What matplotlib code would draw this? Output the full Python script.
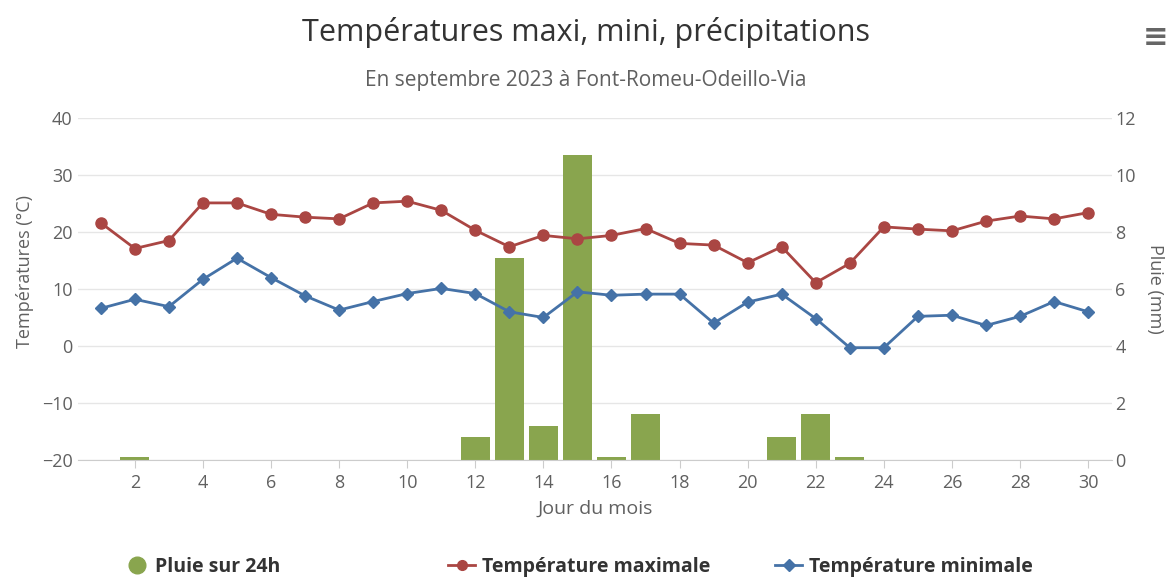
import numpy as np
import matplotlib
matplotlib.use("Agg")
import matplotlib.pyplot as plt
from matplotlib.lines import Line2D

plt.rcParams['font.family'] = ['Open Sans', 'DejaVu Sans']

# Données
jours = list(range(1, 31))
t_max = [21.6, 17.1, 18.5, 25.1, 25.1, 23.1, 22.6, 22.3, 25.1, 25.4,
         23.8, 20.3, 17.4, 19.4, 18.8, 19.4, 20.6, 18.0, 17.7, 14.6,
         17.4, 11.1, 14.5, 20.9, 20.5, 20.2, 21.9, 22.8, 22.3, 23.4]
t_min = [6.6, 8.2, 6.9, 11.7, 15.4, 12.0, 8.8, 6.3, 7.8, 9.2,
         10.1, 9.2, 6.0, 5.0, 9.5, 8.9, 9.1, 9.1, 4.0, 7.7,
         9.1, 4.8, -0.3, -0.3, 5.2, 5.4, 3.6, 5.2, 7.8, 6.0]
pluie = [0.0, 0.1, 0.0, 0.0, 0.0, 0.0, 0.0, 0.0, 0.0, 0.0,
         0.0, 0.8, 7.1, 1.2, 10.7, 0.1, 1.6, 0.0, 0.0, 0.0,
         0.8, 1.6, 0.1, 0.0, 0.0, 0.0, 0.0, 0.0, 0.0, 0.0]

rouge = '#AA4643'
bleu = '#4572A7'
vert = '#89A54E'
gris = '#606060'

fig = plt.figure(figsize=(11.71, 5.82), dpi=100)
ax2 = fig.add_axes([0.0666, 0.2096, 0.883, 0.5877])
ax = ax2.twinx()
# températures au-dessus des barres
ax.set_zorder(ax2.get_zorder() + 1)
ax.patch.set_visible(False)

# Barres de pluie (axe de droite)
ax2.bar(jours, pluie, width=0.86, color=vert, zorder=2)
ax2.set_ylim(0, 12)
ax2.set_yticks(range(0, 13, 2))
ax2.yaxis.tick_right()
ax2.yaxis.set_label_position('right')
ax2.grid(axis='y', color='#e6e6e6', linewidth=1, zorder=0)
ax2.set_axisbelow(True)
ax2.set_ylabel('Pluie (mm)', rotation=270, labelpad=20, fontsize=13, color=gris)

# Courbes de températures (axe de gauche)
ax.plot(jours, t_max, color=rouge, lw=2, marker='o', ms=8, zorder=3)
ax.plot(jours, t_min, color=bleu, lw=2, marker='D', ms=6.5, zorder=3)
ax.set_ylim(-20, 40)
ax.set_yticks(range(-20, 41, 10))
ax.yaxis.tick_left()
ax.yaxis.set_label_position('left')
ax.set_ylabel('Températures (°C)', fontsize=13, color=gris, labelpad=6)
ax.yaxis.set_label_coords(-0.043, 0.55)

ax2.set_xlim(0.33, 30.7)
ax2.set_xticks(range(2, 31, 2))
ax2.set_xlabel('Jour du mois', fontsize=14, color=gris, labelpad=6)

for a in (ax, ax2):
    for s in a.spines.values():
        s.set_visible(False)
ax.tick_params(axis='y', length=0, labelsize=13, labelcolor=gris, pad=4)
ax2.tick_params(axis='y', length=0, labelsize=13, labelcolor=gris, pad=2.5)
ax2.spines['bottom'].set_visible(True)
ax2.spines['bottom'].set_color('#cccccc')
ax2.tick_params(axis='x', length=6, color='#cccccc', labelsize=13,
                labelcolor=gris, pad=4)

# Titres
fig.text(0.5, 0.945, 'Températures maxi, mini, précipitations',
         ha='center', va='center', fontsize=22, color='#333333')
fig.text(0.5, 0.862, 'En septembre 2023 à Font-Romeu-Odeillo-Via',
         ha='center', va='center', fontsize=15, color=gris)
fig.text(0.987, 0.935, '≡', ha='center', va='center', fontsize=22,
         color='#666666', fontweight='bold')

# Légende
elements = [
    (Line2D([], [], color=vert, marker='o', ls='none', ms=12), 'Pluie sur 24h', 0.1085, 1.0, 0.46),
    (Line2D([], [], color=rouge, marker='o', lw=2, ms=7), 'Température maximale', 0.3826, 1.4, 0.36),
    (Line2D([], [], color=bleu, marker='D', lw=2, ms=6), 'Température minimale', 0.6618, 1.4, 0.36),
]
for h, lab, x, hl, tp in elements:
    leg = fig.legend([h], [lab], loc='center left', bbox_to_anchor=(x, 0.026),
                     frameon=False, handlelength=hl, handletextpad=tp,
                     borderpad=0, borderaxespad=0,
                     prop={'weight': 'bold', 'size': 14})
    for t in leg.get_texts():
        t.set_color('#333333')

fig.savefig('out.png', dpi=100)
